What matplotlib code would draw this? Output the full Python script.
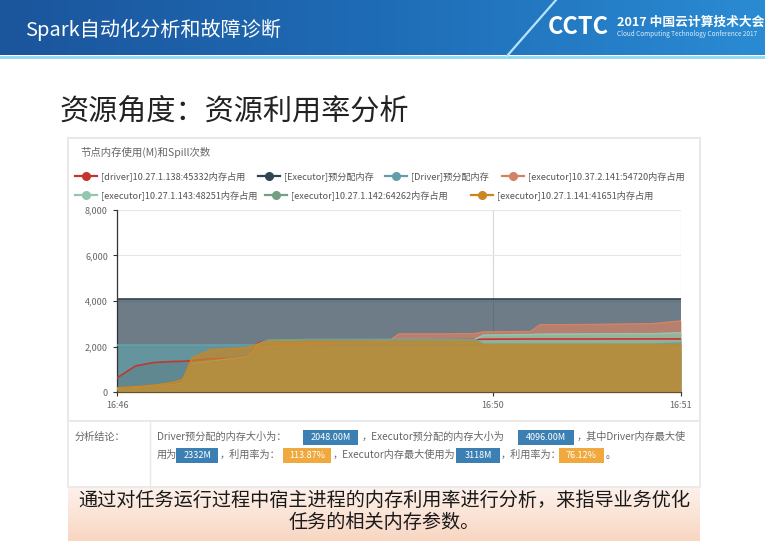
import numpy as np
import matplotlib
matplotlib.use("Agg")
import matplotlib.pyplot as plt
from matplotlib.patches import Rectangle
from matplotlib.colors import LinearSegmentedColormap

plt.rcParams['font.family'] = ['Noto Sans CJK SC', 'DejaVu Sans']

# sample index along the time axis, and where the time labels fall
t = [0, 2, 4, 6, 7, 8, 10, 12, 14, 15, 16, 20, 25, 29, 30, 35, 38, 39, 44, 45, 50, 57, 60]
tick_pos = [0, 40, 60]
tick_labels = ["16:46", "16:50", "16:51"]
y_ticks = [0, 2000, 4000, 6000, 8000]

# memory (M) per series
driver_used = [620, 1150, 1300, 1340, 1350, 1380, 1460, 1480, 1560, 2150, 2250, 2270, 2280, 2290, 2290, 2300, 2310, 2320, 2330, 2330, 2330, 2332, 2332]
executor_pre = [4096, 4096, 4096, 4096, 4096, 4096, 4096, 4096, 4096, 4096, 4096, 4096, 4096, 4096, 4096, 4096, 4096, 4096, 4096, 4096, 4096, 4096, 4096]
driver_pre = [2048, 2048, 2048, 2048, 2048, 2048, 2048, 2048, 2048, 2048, 2048, 2048, 2048, 2048, 2048, 2048, 2048, 2048, 2048, 2048, 2048, 2048, 2048]
ex_54720 = [150, 200, 260, 320, 400, 1200, 1300, 1400, 1500, 1900, 2000, 2100, 2200, 2250, 2550, 2550, 2560, 2640, 2650, 2950, 2960, 3000, 3118]
ex_48251 = [120, 180, 240, 300, 380, 1250, 1350, 1450, 1550, 2100, 2250, 2300, 2300, 2300, 2300, 2300, 2300, 2500, 2520, 2540, 2550, 2560, 2600]
ex_64262 = [100, 150, 220, 280, 350, 1200, 1300, 1400, 1500, 2000, 2280, 2290, 2290, 2290, 2290, 2290, 2290, 2100, 2100, 2100, 2100, 2100, 2150]
ex_41651 = [180, 230, 300, 420, 550, 1500, 1850, 1900, 1950, 2100, 2200, 2200, 2200, 2200, 2200, 2200, 2200, 2050, 2050, 2050, 2050, 2050, 2050]

names = ["[driver]10.27.1.138:45332内存占用", "[Executor]预分配内存", "[Driver]预分配内存",
         "[executor]10.37.2.141:54720内存占用", "[executor]10.27.1.143:48251内存占用",
         "[executor]10.27.1.142:64262内存占用", "[executor]10.27.1.141:41651内存占用"]
values = [driver_used, executor_pre, driver_pre, ex_54720, ex_48251, ex_64262, ex_41651]
colors = ['#c23531', '#2f4554', '#61a0a8', '#d48265', '#91c7ae', '#749f83', '#ca8622']

fig = plt.figure(figsize=(7.65, 5.45), dpi=100)
fig.patch.set_facecolor('white')

# background layer in pixel coordinates
bg = fig.add_axes([0, 0, 1, 1], zorder=0)
bg.set_xlim(0, 765)
bg.set_ylim(545, 0)
bg.axis('off')

# header band
head_cmap = LinearSegmentedColormap.from_list('head', ['#1b559c', '#1f6cb6', '#2a8bd3'])
bg.imshow(np.linspace(0, 1, 256)[None, :], extent=(0, 765, 55, 0), aspect='auto', cmap=head_cmap)
bg.plot([0, 765], [56.5, 56.5], color='#8fd6f2', lw=2)
bg.plot([507, 556], [56, 0], color='#b5e6f8', lw=1.6)
bg.text(25, 30, "Spark自动化分析和故障诊断", color='white', fontsize=14.5, va='center')
bg.text(548, 27, "CCTC", color='white', fontsize=17, fontweight='bold', va='center')
bg.text(617, 22, "2017 中国云计算技术大会", color='white', fontsize=9.2, fontweight='bold', va='center')
bg.text(617, 33.5, "Cloud Computing Technology Conference 2017", color='#dbeefa', fontsize=4.6, va='center')

# slide heading
bg.text(60, 112, "资源角度：资源利用率分析", color='#222222', fontsize=21, va='center')

# chart panel and analysis box
bg.add_patch(Rectangle((68, 138), 632, 283, facecolor='white', edgecolor='#e8e8e8', lw=1.5))
bg.add_patch(Rectangle((68, 421), 632, 66, facecolor='white', edgecolor='#e8e8e8', lw=1.2))
bg.plot([150, 150], [421, 487], color='#e8e8e8', lw=1)
bg.text(80, 152, "节点内存使用(M)和Spill次数", color='#666666', fontsize=7.5, va='center')

# legend
leg_rows = [(176, [101, 284, 411, 528]), (195, [101, 291, 497])]
k = 0
for ly, xs in leg_rows:
    for tx in xs:
        cx = tx - 15
        bg.plot([cx - 11, cx + 11], [ly, ly], color=colors[k], lw=1.6)
        bg.plot(cx, ly, 'o', ms=5.5, color=colors[k])
        bg.text(tx, ly, names[k], color='#555555', fontsize=6.6, va='center')
        k += 1

# analysis text
txt = dict(color='#666666', fontsize=7.3, va='center')
bg.text(75, 437, "分析结论：", **txt)
bg.text(157, 437, "Driver预分配的内存大小为：", **txt)
bg.text(362, 437, "，Executor预分配的内存大小为", **txt)
bg.text(577, 437, "，其中Driver内存最大使", **txt)
bg.text(157, 455, "用为", **txt)
bg.text(220, 455, "，利用率为：", **txt)
bg.text(333, 455, "，Executor内存最大使用为", **txt)
bg.text(501, 455, "，利用率为：", **txt)
bg.text(606, 455, "。", **txt)

badges = [(303, 358, 437, "2048.00M", '#3c80b3'), (518, 574, 437, "4096.00M", '#3c80b3'),
          (176, 218, 455, "2332M", '#3c80b3'), (283, 331, 455, "113.87%", '#f0a93e'),
          (456, 500, 455, "3118M", '#3c80b3'), (559, 604, 455, "76.12%", '#f0a93e')]
for x0, x1, yc, label, c in badges:
    bg.add_patch(Rectangle((x0, yc - 7.5), x1 - x0, 15, facecolor=c, edgecolor='none'))
    bg.text((x0 + x1) / 2, yc, label, color='white', fontsize=6.5, ha='center', va='center')

# conclusion box
peach = LinearSegmentedColormap.from_list('peach', ['#fdf1ea', '#f8d6c2'])
bg.imshow(np.linspace(0, 1, 64)[:, None], extent=(68, 700, 541, 488), aspect='auto', cmap=peach)
bg.text(384, 500, "通过对任务运行过程中宿主进程的内存利用率进行分析，来指导业务优化",
        color='#1a1a1a', fontsize=13.8, ha='center', va='center')
bg.text(384, 522, "任务的相关内存参数。", color='#1a1a1a', fontsize=13.8, ha='center', va='center')

# the chart itself
ax = fig.add_axes([117 / 765, 1 - 392 / 545, 564 / 765, 182 / 545], zorder=2)
ax.set_facecolor('white')
for i in range(6):
    ax.fill_between(t, 0, values[i], color=colors[i], alpha=0.7, lw=0, zorder=2)
for i in range(6):
    ax.plot(t, values[i], color=colors[i], lw=1.2, zorder=3)
ax.fill_between(t, 0, ex_41651, color=colors[6], alpha=0.7, lw=0, zorder=4)
ax.plot(t, ex_41651, color=colors[6], lw=1.2, zorder=4)

ax.set_xlim(0, 60)
ax.set_ylim(0, 8000)
ax.set_xticks(tick_pos)
ax.set_xticklabels(tick_labels)
ax.set_yticks(y_ticks)
ax.set_yticklabels([f"{v:,}" for v in y_ticks])
ax.tick_params(axis='both', labelsize=6.5, labelcolor='#666666', color='#333333', length=3, width=0.8)
ax.grid(axis='y', color='#e6e6e6', lw=0.8, zorder=0)
ax.grid(axis='x', color='#d8d8d8', lw=0.8, zorder=0)
ax.set_axisbelow(True)
for s in ['top', 'right']:
    ax.spines[s].set_visible(False)
for s in ['left', 'bottom']:
    ax.spines[s].set_color('#333333')
    ax.spines[s].set_linewidth(0.9)

fig.savefig("out.png", dpi=100)
